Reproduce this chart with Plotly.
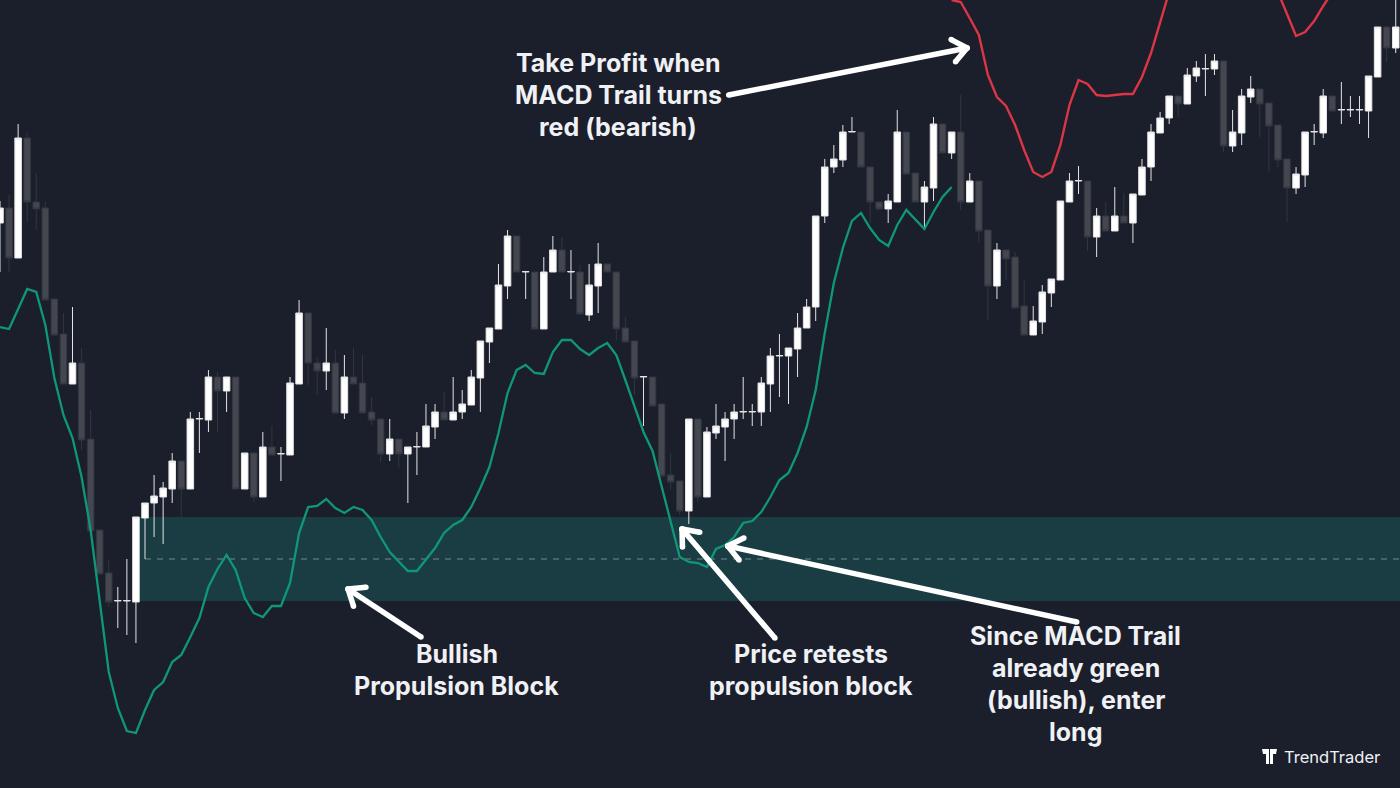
import numpy as np
import plotly.graph_objects as go

# Candles, left to right (price scale is arbitrary, no axis is shown)
opens = [565, 580, 530, 650, 586, 580, 489, 454, 404, 425,
         349, 258, 215, 187, 187, 186, 270, 285, 291, 299,
         327, 299, 369, 368, 411, 397, 411, 299, 335, 291,
         341, 334, 333, 404, 475, 425, 417, 425, 375, 411,
         405, 376, 369, 334, 349, 334, 341, 341, 361, 376,
         368, 376, 383, 410, 446, 459, 502, 552, 516, 516,
         459, 516, 538, 516, 516, 473, 502, 524, 516, 460,
         447, 411, 411, 384, 313, 307, 277, 369, 291, 355,
         361, 369, 376, 376, 376, 404, 432, 432, 439, 460,
         481, 572, 621, 628, 656, 656, 621, 586, 579, 586,
         656, 615, 586, 600, 664, 635, 656, 586, 607, 558,
         502, 538, 531, 482, 453, 466, 495, 508, 586, 607,
         607, 551, 572, 557, 572, 565, 593, 621, 655, 670,
         692, 684, 712, 719, 719, 727, 642, 655, 691, 699,
         685, 663, 629, 600, 613, 656, 655, 692, 678, 678,
         678, 677, 711, 761, 740]
highs = [587, 593, 664, 656, 615, 586, 489, 475, 481, 440,
         378, 258, 228, 201, 229, 271, 285, 313, 306, 335,
         327, 376, 376, 418, 416, 411, 411, 335, 335, 356,
         362, 341, 411, 488, 475, 431, 460, 438, 433, 440,
         433, 391, 369, 369, 349, 341, 356, 384, 384, 396,
         411, 398, 418, 447, 460, 524, 558, 552, 516.5, 516,
         531, 552, 551, 538, 523, 524, 545, 524, 516, 471,
         447, 411.5, 411, 384, 335, 307, 369, 369, 361, 384,
         376, 384, 411, 384, 411, 440, 454, 440, 475, 489,
         572, 629, 643, 663, 671, 656, 621, 586, 594, 678,
         656, 615, 607, 671, 664, 656, 693, 615, 607, 558,
         545, 538, 536, 508, 482, 503, 509, 587, 615, 622,
         607, 580, 586, 601, 595, 594, 629, 664, 676, 692,
         692, 720, 727, 734, 734, 727, 678, 699, 712, 699,
         685, 663, 629, 621, 656, 664, 699, 692, 706, 692,
         692, 712, 761, 761, 788]
lows = [516, 516, 530, 566, 558, 488, 453, 404, 404, 338,
        257, 214, 181, 160, 153, 145, 229, 251, 244, 285,
        271, 299, 335, 356, 356, 376, 299, 299, 286, 291,
        333, 307, 333, 404, 403, 393, 398, 375, 369, 404,
        375, 363, 326, 327, 320, 285, 313, 341, 349, 368,
        368, 369, 383, 376, 425, 459, 489, 516, 489, 459,
        459, 516, 516, 489, 474, 467, 475, 516, 448, 446,
        393, 362, 382, 312, 298, 273, 264, 286, 291, 349,
        327, 349, 369, 362, 362, 376, 391, 384, 411, 460,
        467, 565, 615, 621, 656, 621, 565, 579, 565, 586,
        614, 586, 559, 587, 635, 629, 578, 586, 546, 468,
        489, 508, 480, 453, 453, 454, 481, 508, 586, 594,
        537, 531, 557, 557, 565, 545, 593, 607, 655, 664,
        671, 684, 706, 692, 713, 636, 636, 643, 685, 651,
        616, 621, 566, 594, 601, 643, 650, 677, 664, 671,
        664, 650, 711, 726, 735]
closes = [580, 530, 650, 586, 579, 488, 453, 404, 425, 348,
          257, 214, 186, 187.5, 187.5, 271, 285, 292, 300, 327,
          299, 369, 369.5, 411, 397, 411, 299, 335, 291, 341,
          333, 334.5, 405, 475, 425, 417, 425, 375, 411, 404,
          375, 368, 334, 349, 334, 341, 341.5, 362, 376, 368,
          376, 384, 411, 447, 460, 503, 552, 516, 516.5, 459,
          516, 538, 516, 516.5, 474, 503, 524, 516, 459, 446,
          410, 411.5, 382, 312, 306, 277, 369, 291, 356, 362,
          369, 376, 376.5, 376.5, 405, 432, 432.5, 440, 460, 481,
          572, 621, 629, 656, 656.5, 621, 586, 579, 587, 656,
          614, 586, 601, 664, 635, 656, 586, 607, 557, 502,
          538, 529, 480, 453, 467, 496, 509, 587, 607, 607.5,
          551, 572, 557, 572, 565, 594, 621, 656, 670, 692,
          684, 713, 720, 719.5, 727, 642, 656, 692, 699, 684,
          662, 628, 600, 614, 656, 656.5, 692, 677, 678.5, 678.5,
          678.5, 712, 761, 740, 761]
candle_idx = list(range(len(opens)))

# MACD Trail: green part, then the two red parts
trail_green = [461, 459, 479, 499, 496, 463, 410, 373, 350, 311,
               258, 188, 116, 80, 57, 55, 78, 98, 106, 126,
               133, 151, 170, 201, 219, 233, 218, 190, 175, 171,
               182, 182, 205, 255, 281, 282, 289, 280, 275, 281,
               278, 268, 251, 236, 226, 217, 217, 228, 240, 255,
               263, 268, 281, 300, 321, 355, 395, 418, 423, 415,
               414, 436, 448, 448, 439, 433, 440, 445, 433, 408,
               381, 356, 337, 301, 268, 231, 226, 225, 221, 239,
               243, 251, 265, 267, 276, 291, 308, 315, 335, 361,
               398, 455, 505, 540, 567, 575, 560, 548, 542, 563,
               578, 569, 559, 576, 591, 601]
trail_red_a = [788, 786, 770, 753, 713, 691, 682, 663, 638, 616, 611, 616, 643,
               683, 708, 704, 693, 692, 693, 694, 694, 711, 735, 766, 796]
trail_red_a_idx = list(range(105, 130))
trail_red_b = [796, 774, 752, 756, 767, 782, 796]
trail_red_b_idx = list(range(141, 148))

# Propulsion block
block_start = 15
block_top = 271
block_mid = 229
block_bottom = 187

# Labels: line text, candle position, price
label_text = ["Take Profit when", "MACD Trail turns", "red (bearish)",
              "Bullish", "Propulsion Block",
              "Price retests", "propulsion block",
              "Since MACD Trail", "already green", "(bullish), enter", "long"]
label_x = [68.2, 68.2, 68.2, 50.4, 50.4, 89.5, 89.5, 118.7, 118.7, 118.7, 118.7]
label_y = [725, 693, 661, 134, 102, 134, 102, 152, 120, 88, 56]

# Arrows: tail x, tail y, tip x, tip y
arrows = [(80.4, 693, 106.7, 740),
          (46.45, 151, 38.4, 199),
          (85.5, 150, 75.25, 259),
          (118.8, 166, 80.3, 242)]

BG = "#1b1f2b"
GREEN = "#0f9778"
RED = "#dc3545"
X_END = 154.47
PX_PER_CANDLE = 1400 / X_END

fig = go.Figure()

fig.add_trace(go.Candlestick(
    x=candle_idx, open=opens, high=highs, low=lows, close=closes,
    whiskerwidth=0,
    increasing=dict(fillcolor="#ffffff", line=dict(color="#e4e4e6", width=1)),
    decreasing=dict(fillcolor="#44474f", line=dict(color="#33363f", width=1)),
))

fig.add_trace(go.Scatter(x=list(range(len(trail_green))), y=trail_green, mode="lines",
                         line=dict(color=GREEN, width=2.3)))
fig.add_trace(go.Scatter(x=trail_red_a_idx, y=trail_red_a, mode="lines",
                         line=dict(color=RED, width=2.4)))
fig.add_trace(go.Scatter(x=trail_red_b_idx, y=trail_red_b, mode="lines",
                         line=dict(color=RED, width=2.4)))

# Arrows with an open head; the markers round off the line ends
for x0, y0, x1, y1 in arrows:
    dx = (x0 - x1) * PX_PER_CANDLE
    dy = y0 - y1
    ang = np.arctan2(dy, dx)
    xs = [x0, x1]
    ys = [y0, y1]
    for turn in (0.68, -0.68):
        xs += [x1 + 18 * np.cos(ang + turn) / PX_PER_CANDLE, x1, None]
        ys += [y1 + 18 * np.sin(ang + turn), y1, None]
    fig.add_trace(go.Scatter(x=xs, y=ys, mode="lines+markers",
                             line=dict(color="white", width=5.5),
                             marker=dict(color="white", size=5.5)))

for text, x, y in zip(label_text, label_x, label_y):
    fig.add_annotation(x=x, y=y, text=text, showarrow=False, xanchor="center", yanchor="middle",
                       font=dict(family="Inter", size=25, color="#f0f1f5", weight=700))

fig.add_annotation(xref="paper", yref="paper", x=1284 / 1400, y=1 - 757 / 788, text="TrendTrader",
                   showarrow=False, xanchor="left", yanchor="middle", xshift=-2,
                   font=dict(family="Inter", size=16.5, color="#f0f1f5"))

# Logo mark
def logo_path(points):
    return "M" + " L".join(f"{px / 1400:.5f},{1 - py / 788:.5f}" for px, py in points) + " Z"

for pts in ([(1262, 749), (1269, 749), (1269, 764), (1266, 764), (1266, 754), (1263, 754)],
            [(1277, 749), (1270, 749), (1270, 764), (1273, 764), (1273, 754), (1276, 754)]):
    fig.add_shape(type="path", xref="paper", yref="paper", path=logo_path(pts),
                  fillcolor="white", line=dict(width=0))

fig.add_shape(type="rect", x0=block_start, x1=X_END, y0=block_bottom, y1=block_top,
              fillcolor="#193d42", line=dict(width=0), layer="below")
fig.add_shape(type="line", x0=block_start + 1, x1=X_END, y0=block_mid, y1=block_mid,
              line=dict(color="rgba(255,255,255,0.4)", width=1, dash="6px,6px"), layer="below")

fig.update_layout(
    width=1400, height=788, margin=dict(l=0, r=0, t=0, b=0),
    paper_bgcolor=BG, plot_bgcolor=BG, showlegend=False, hovermode=False,
    boxgap=0.15, boxgroupgap=0.15,
    xaxis=dict(range=[0, X_END], visible=False, rangeslider=dict(visible=False)),
    yaxis=dict(range=[0, 788], visible=False),
)

fig.write_html("out.html", config=dict(displayModeBar=False),
               post_script="document.body.style.margin='0';document.body.style.background='%s';" % BG)
